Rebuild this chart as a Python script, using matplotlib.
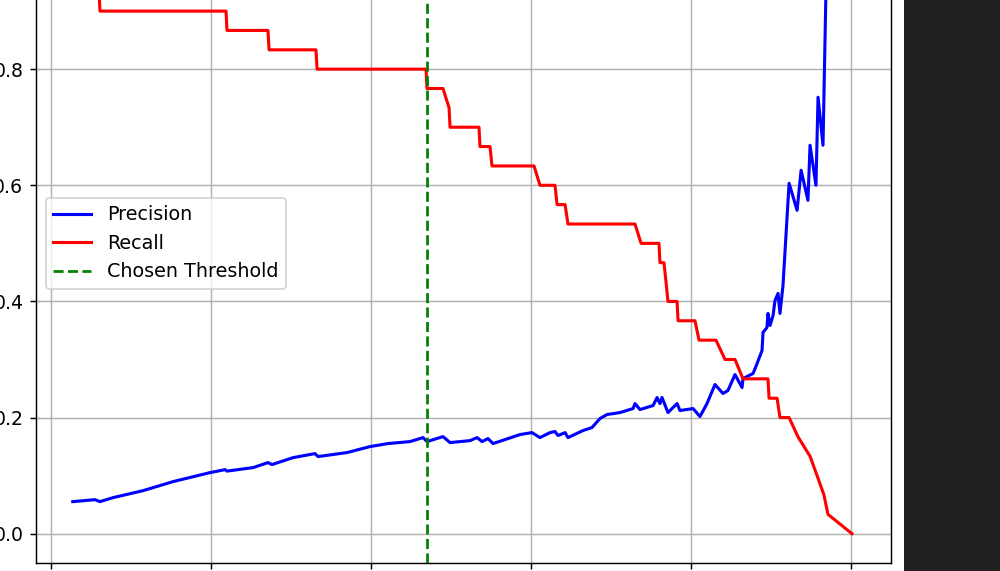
import matplotlib
matplotlib.use('Agg')
import matplotlib.pyplot as plt
import matplotlib.patches as patches

# Precision vs threshold
prec_thresh = [0.0136, 0.0275, 0.0306, 0.0388, 0.0575, 0.0763, 0.0994, 0.1088, 0.1100, 0.1263,
               0.1356, 0.1381, 0.1513, 0.1650, 0.1669, 0.1850, 0.1994, 0.2106, 0.2244, 0.2325,
               0.2350, 0.2450, 0.2494, 0.2619, 0.2663, 0.2694, 0.2731, 0.2763, 0.2931, 0.3006,
               0.3056, 0.3119, 0.3150, 0.3169, 0.3213, 0.3231, 0.3325, 0.3381, 0.3431, 0.3475,
               0.3556, 0.3638, 0.3650, 0.3681, 0.3763, 0.3788, 0.3806, 0.3819, 0.3856, 0.3913,
               0.3931, 0.4013, 0.4056, 0.4100, 0.4150, 0.4200, 0.4231, 0.4275, 0.4319, 0.4325,
               0.4388, 0.4413, 0.4444, 0.4450, 0.4475, 0.4481, 0.4494, 0.4513, 0.4525, 0.4544,
               0.4556, 0.4575, 0.4588, 0.4613, 0.4663, 0.4688, 0.4731, 0.4744, 0.4781, 0.4794,
               0.4825, 0.4848, 0.5006]
precision = [0.0552, 0.0586, 0.0552, 0.0621, 0.0741, 0.0897, 0.1052, 0.1103, 0.1078, 0.1138,
             0.1224, 0.1190, 0.1310, 0.1379, 0.1328, 0.1397, 0.1500, 0.1552, 0.1586, 0.1655,
             0.1586, 0.1672, 0.1569, 0.1603, 0.1655, 0.1586, 0.1638, 0.1552, 0.1707, 0.1741,
             0.1655, 0.1741, 0.1759, 0.1690, 0.1741, 0.1655, 0.1776, 0.1828, 0.1983, 0.2052,
             0.2086, 0.2155, 0.2241, 0.2138, 0.2207, 0.2345, 0.2241, 0.2345, 0.2086, 0.2241,
             0.2121, 0.2155, 0.2017, 0.2241, 0.2569, 0.2414, 0.2466, 0.2741, 0.2517, 0.2672,
             0.2759, 0.2931, 0.3155, 0.3466, 0.3552, 0.3793, 0.3586, 0.3759, 0.4017, 0.4138,
             0.3793, 0.4276, 0.4879, 0.6034, 0.5569, 0.6259, 0.5741, 0.6690, 0.6000, 0.7517,
             0.6690, 1.0000, 1.0000]

# Recall vs threshold (30 positives -> steps of 1/30)
rec_thresh = [0.0138, 0.0288, 0.0306, 0.1094, 0.1100, 0.1356, 0.1363, 0.1656, 0.1663, 0.2344,
              0.2350, 0.2450, 0.2488, 0.2494, 0.2675, 0.2681, 0.2744, 0.2756, 0.3019, 0.3056,
              0.3150, 0.3163, 0.3213, 0.3231, 0.3650, 0.3688, 0.3800, 0.3806, 0.3831, 0.3844,
              0.3856, 0.3913, 0.3919, 0.4025, 0.4050, 0.4156, 0.4213, 0.4275, 0.4325, 0.4481,
              0.4488, 0.4538, 0.4556, 0.4613, 0.4669, 0.4744, 0.4788, 0.4831, 0.4856, 0.5006]
recall = [1.0, 1.0, 0.9, 0.9, 0.8667, 0.8667, 0.8333, 0.8333, 0.8, 0.8,
          0.7667, 0.7667, 0.7333, 0.7, 0.7, 0.6667, 0.6667, 0.6333, 0.6333, 0.6,
          0.6, 0.5667, 0.5667, 0.5333, 0.5333, 0.5, 0.5, 0.4667, 0.4667, 0.4333,
          0.4, 0.4, 0.3667, 0.3667, 0.3333, 0.3333, 0.3, 0.3, 0.2667, 0.2667,
          0.2333, 0.2333, 0.2, 0.2, 0.1667, 0.1333, 0.1, 0.0667, 0.0333, 0.0]

chosen_threshold = 0.235

dpi = 131
fig = plt.figure(figsize=(1000 / dpi, 571 / dpi), dpi=dpi)
# the screenshot is cropped: axes run past the top edge
ax = fig.add_axes([0.036, 0.0145, 0.855, 1.1186])

ax.plot(prec_thresh, precision, 'b', lw=1.7, label='Precision')
ax.plot(rec_thresh, recall, 'r', lw=1.7, label='Recall')
ax.axvline(chosen_threshold, color='g', linestyle='--', label='Chosen Threshold')
ax.set_xlim(-0.009375, 0.525)
ax.set_ylim(-0.05, 1.05)
ax.set_xticks([0.0, 0.1, 0.2, 0.3, 0.4, 0.5])
ax.tick_params(axis='x', labelbottom=False)  # x labels fall below the crop
ax.tick_params(axis='y', labelsize=10.4)
ax.grid(True)
ax.legend(loc='center left', fontsize=10.5)

# dark side panel from the screenshot
fig.patches.append(patches.Rectangle((0.904, 0.0), 0.096, 1.0, transform=fig.transFigure,
                                     facecolor='#212121', edgecolor='none', zorder=10))

fig.savefig('out.png', dpi=dpi)
